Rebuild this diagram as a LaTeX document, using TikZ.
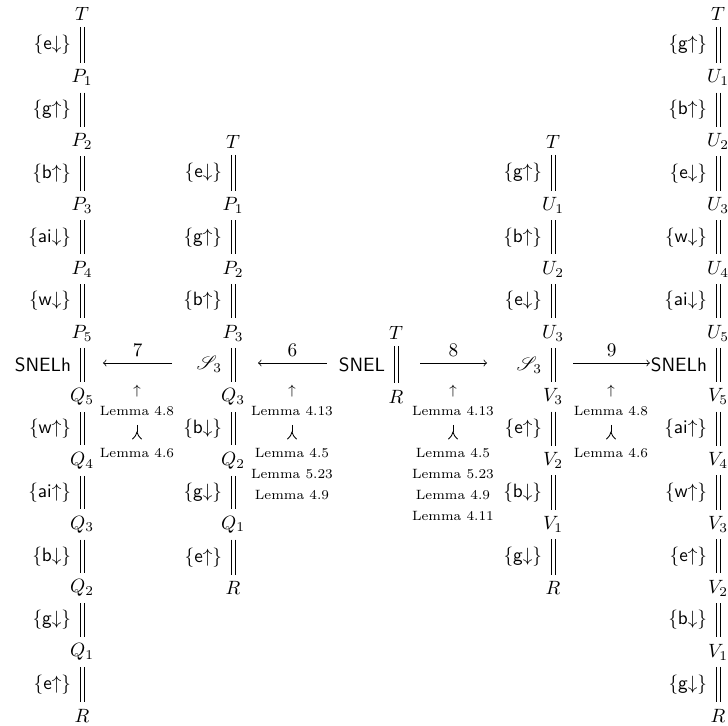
\documentclass[tikz,border=0pt]{standalone}
\usepackage{amsmath}
\usepackage{amssymb}
\usepackage{mathrsfs}
\usepackage{tikz}
\usetikzlibrary{positioning}

\newcommand{\mvup}[1]{\textsf{\{#1$\uparrow$\}}}
\newcommand{\mvdn}[1]{\textsf{\{#1$\downarrow$\}}}
\newcommand{\yup}{\tikz[baseline={(0pt,-2.4pt)}, line width=0.45pt]{
	\draw (0pt,3.7pt) -- (0pt,0pt);
	\draw (-2.4pt,-3.7pt) .. controls (-1.2pt,-2.7pt) and (-0.2pt,-1.4pt) .. (0pt,0pt) .. controls (0.2pt,-1.4pt) and (1.2pt,-2.7pt) .. (2.4pt,-3.7pt);}}

\begin{document}
\begin{tikzpicture}[x=0.52pt, y=-0.52pt,
	eq/.style={draw=none, line width=0.4pt,
		postaction={draw, transform canvas={xshift=1pt}},
		postaction={draw, transform canvas={xshift=-1pt}}},
	lab/.style={left, midway, inner sep=5.5pt},
	lem/.style={font=\fontsize{7}{10.9}\selectfont, align=center, inner sep=0pt, anchor=north}]
	\useasboundingbox (0,0) rectangle (728,726);
	\node (a0) at (82,14) {$T$};
	\node (a1) at (82,77.8) {$P_1$};
	\node (a2) at (82,141.6) {$P_2$};
	\node (a3) at (82,205.4) {$P_3$};
	\node (a4) at (82,269.2) {$P_4$};
	\node (a5) at (82,333) {$P_5$};
	\node (a6) at (82,396.8) {$Q_5$};
	\node (a7) at (82,460.6) {$Q_4$};
	\node (a8) at (82,524.4) {$Q_3$};
	\node (a9) at (82,588.2) {$Q_2$};
	\node (a10) at (82,652) {$Q_1$};
	\node (a11) at (82,715.8) {$R$};
	\node (b0) at (233,141.6) {$T$};
	\node (b1) at (233,205.4) {$P_1$};
	\node (b2) at (233,269.2) {$P_2$};
	\node (b3) at (233,333) {$P_3$};
	\node (b4) at (233,396.8) {$Q_3$};
	\node (b5) at (233,460.6) {$Q_2$};
	\node (b6) at (233,524.4) {$Q_1$};
	\node (b7) at (233,588.2) {$R$};
	\node (c0) at (396,333) {$T$};
	\node (c1) at (396,396.8) {$R$};
	\node (d0) at (553,141.6) {$T$};
	\node (d1) at (553,205.4) {$U_1$};
	\node (d2) at (553,269.2) {$U_2$};
	\node (d3) at (553,333) {$U_3$};
	\node (d4) at (553,396.8) {$V_3$};
	\node (d5) at (553,460.6) {$V_2$};
	\node (d6) at (553,524.4) {$V_1$};
	\node (d7) at (553,588.2) {$R$};
	\node (e0) at (718,14) {$T$};
	\node (e1) at (718,77.8) {$U_1$};
	\node (e2) at (718,141.6) {$U_2$};
	\node (e3) at (718,205.4) {$U_3$};
	\node (e4) at (718,269.2) {$U_4$};
	\node (e5) at (718,333) {$U_5$};
	\node (e6) at (718,396.8) {$V_5$};
	\node (e7) at (718,460.6) {$V_4$};
	\node (e8) at (718,524.4) {$V_3$};
	\node (e9) at (718,588.2) {$V_2$};
	\node (e10) at (718,652) {$V_1$};
	\node (e11) at (718,715.8) {$R$};
	\draw[eq] (a0) -- node[lab]{\mvdn{e}} (a1);
	\draw[eq] (a1) -- node[lab]{\mvup{g}} (a2);
	\draw[eq] (a2) -- node[lab]{\mvup{b}} (a3);
	\draw[eq] (a3) -- node[lab]{\mvdn{ai}} (a4);
	\draw[eq] (a4) -- node[lab]{\mvdn{w}} (a5);
	\draw[eq] (a5) -- node[lab]{\textsf{SNELh}} (a6);
	\draw[eq] (a6) -- node[lab]{\mvup{w}} (a7);
	\draw[eq] (a7) -- node[lab]{\mvup{ai}} (a8);
	\draw[eq] (a8) -- node[lab]{\mvdn{b}} (a9);
	\draw[eq] (a9) -- node[lab]{\mvdn{g}} (a10);
	\draw[eq] (a10) -- node[lab]{\mvup{e}} (a11);
	\draw[eq] (b0) -- node[lab]{\mvdn{e}} (b1);
	\draw[eq] (b1) -- node[lab]{\mvup{g}} (b2);
	\draw[eq] (b2) -- node[lab]{\mvup{b}} (b3);
	\draw[eq] (b3) -- node[lab]{$\mathscr{S}_3$} (b4);
	\draw[eq] (b4) -- node[lab]{\mvdn{b}} (b5);
	\draw[eq] (b5) -- node[lab]{\mvdn{g}} (b6);
	\draw[eq] (b6) -- node[lab]{\mvup{e}} (b7);
	\draw[eq] (c0) -- node[lab]{\textsf{SNEL}} (c1);
	\draw[eq] (d0) -- node[lab]{\mvup{g}} (d1);
	\draw[eq] (d1) -- node[lab]{\mvup{b}} (d2);
	\draw[eq] (d2) -- node[lab]{\mvdn{e}} (d3);
	\draw[eq] (d3) -- node[lab]{$\mathscr{S}_3$} (d4);
	\draw[eq] (d4) -- node[lab]{\mvup{e}} (d5);
	\draw[eq] (d5) -- node[lab]{\mvdn{b}} (d6);
	\draw[eq] (d6) -- node[lab]{\mvdn{g}} (d7);
	\draw[eq] (e0) -- node[lab]{\mvup{g}} (e1);
	\draw[eq] (e1) -- node[lab]{\mvup{b}} (e2);
	\draw[eq] (e2) -- node[lab]{\mvdn{e}} (e3);
	\draw[eq] (e3) -- node[lab]{\mvdn{w}} (e4);
	\draw[eq] (e4) -- node[lab]{\mvdn{ai}} (e5);
	\draw[eq] (e5) -- node[lab]{\textsf{SNELh}} (e6);
	\draw[eq] (e6) -- node[lab]{\mvup{ai}} (e7);
	\draw[eq] (e7) -- node[lab]{\mvup{w}} (e8);
	\draw[eq] (e8) -- node[lab]{\mvup{e}} (e9);
	\draw[eq] (e9) -- node[lab]{\mvdn{b}} (e10);
	\draw[eq] (e10) -- node[lab]{\mvdn{g}} (e11);
	\coordinate (ma) at (82,363);
	\coordinate (mb) at (233,363);
	\coordinate (mc) at (396,363);
	\coordinate (md) at (553,363);
	\coordinate (me) at (718,363);
	\draw[->, shorten <=31.7pt, shorten >=10.9pt] (mb) -- node[above, pos=0.632]{$7$} (ma);
	\draw[->, shorten <=35.9pt, shorten >=13pt] (mc) -- node[above, pos=0.635]{$6$} (mb);
	\draw[->, shorten <=12.5pt, shorten >=34.3pt] (mc) -- node[above, pos=0.366]{$8$} (md);
	\draw[->, shorten <=10.4pt, shorten >=35.4pt] (md) -- node[above, pos=0.355]{$9$} (me);
	\node[lem] (l7) at (137,385) {$\uparrow$\\Lemma 4.8\\\yup\\Lemma 4.6};
	\node[lem] (l6) at (292,385) {$\uparrow$\\Lemma 4.13\\\yup\\Lemma 4.5\\Lemma 5.23\\Lemma 4.9};
	\node[lem] (l8) at (453,385) {$\uparrow$\\Lemma 4.13\\\yup\\Lemma 4.5\\Lemma 5.23\\Lemma 4.9\\Lemma 4.11};
	\node[lem] (l9) at (611,385) {$\uparrow$\\Lemma 4.8\\\yup\\Lemma 4.6};
\end{tikzpicture}
\end{document}
